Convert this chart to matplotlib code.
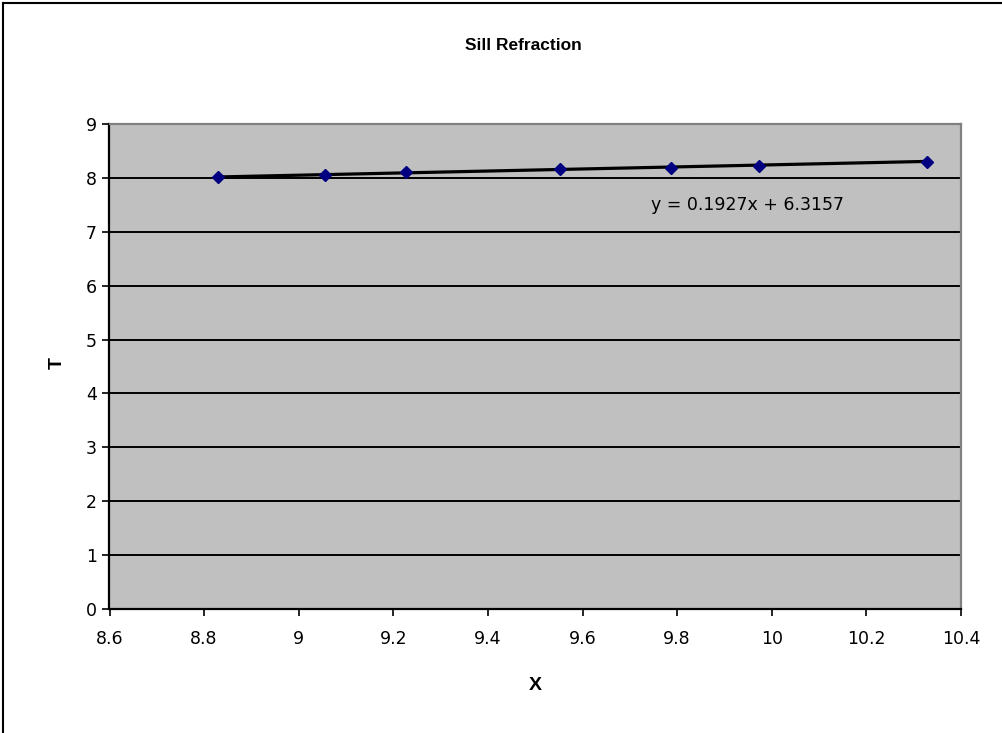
import matplotlib
matplotlib.use("Agg")
import matplotlib.pyplot as plt
from matplotlib.lines import Line2D

# Measured distance X and travel time T
x_vals = [8.83, 9.055, 9.227, 9.553, 9.787, 9.973, 10.328]
t_vals = [8.01, 8.05, 8.11, 8.16, 8.19, 8.22, 8.30]

# Linear trendline coefficients
slope = 0.1927
intercept = 6.3157

x_ticks = [8.6, 8.8, 9.0, 9.2, 9.4, 9.6, 9.8, 10.0, 10.2, 10.4]
x_tick_labels = ["8.6", "8.8", "9", "9.2", "9.4", "9.6", "9.8", "10", "10.2", "10.4"]
y_ticks = [0, 1, 2, 3, 4, 5, 6, 7, 8, 9]

W, H = 1003, 733
fig = plt.figure(figsize=(W / 100, H / 100), dpi=100)
fig.patch.set_facecolor("white")

ax = fig.add_axes([109.5 / W, 1 - 609 / H, (961 - 109.5) / W, (609 - 124) / H])
ax.set_facecolor("#C0C0C0")

ax.set_xlim(8.6, 10.4)
ax.set_ylim(0, 9)
ax.set_xticks(x_ticks)
ax.set_xticklabels(x_tick_labels)
ax.set_yticks(y_ticks)

for lbl in ax.get_xticklabels() + ax.get_yticklabels():
    lbl.set_fontfamily("DejaVu Sans")
    lbl.set_fontsize(12.5)
    lbl.set_color("black")

ax.tick_params(axis="both", direction="out", length=5, width=1.2, color="black")
ax.tick_params(axis="x", pad=10)
ax.tick_params(axis="y", pad=4)

ax.yaxis.grid(True, color="black", linewidth=1.4)
ax.set_axisbelow(True)

for side in ("left", "bottom"):
    ax.spines[side].set_color("black")
    ax.spines[side].set_linewidth(1.6)
for side in ("top", "right"):
    ax.spines[side].set_color("#808080")
    ax.spines[side].set_linewidth(1.6)

# Trendline over the data range
x0, x1 = min(x_vals), max(x_vals)
ax.plot([x0, x1], [slope * x0 + intercept, slope * x1 + intercept],
        color="black", linewidth=2.3, zorder=3)

ax.plot(x_vals, t_vals, linestyle="none", marker="D", markersize=6.5,
        color="#000080", markeredgecolor="#000080", zorder=4)

ax.text(748 / W, 1 - 205 / H, f"y = {slope}x + {intercept}",
        transform=fig.transFigure, ha="center", va="center",
        fontfamily="DejaVu Sans", fontsize=12.5, color="black")

fig.text(523 / W, 1 - 45 / H, "Sill Refraction", ha="center", va="center",
         fontfamily="Liberation Sans", fontweight="bold", fontsize=12.5)
fig.text(535 / W, 1 - 686 / H, "X", ha="center", va="center",
         fontfamily="Liberation Sans", fontweight="bold", fontsize=14)
fig.text(57 / W, 1 - 363 / H, "T", ha="center", va="center", rotation=90,
         fontfamily="Liberation Sans", fontweight="bold", fontsize=14)

# Chart frame along the top and left edges
fig.add_artist(Line2D([3 / W, 1], [1 - 3 / H, 1 - 3 / H],
                      transform=fig.transFigure, color="black", linewidth=1.5))
fig.add_artist(Line2D([3 / W, 3 / W], [0, 1 - 3 / H],
                      transform=fig.transFigure, color="black", linewidth=1.5))

fig.savefig("out.png", dpi=100, facecolor="white")
